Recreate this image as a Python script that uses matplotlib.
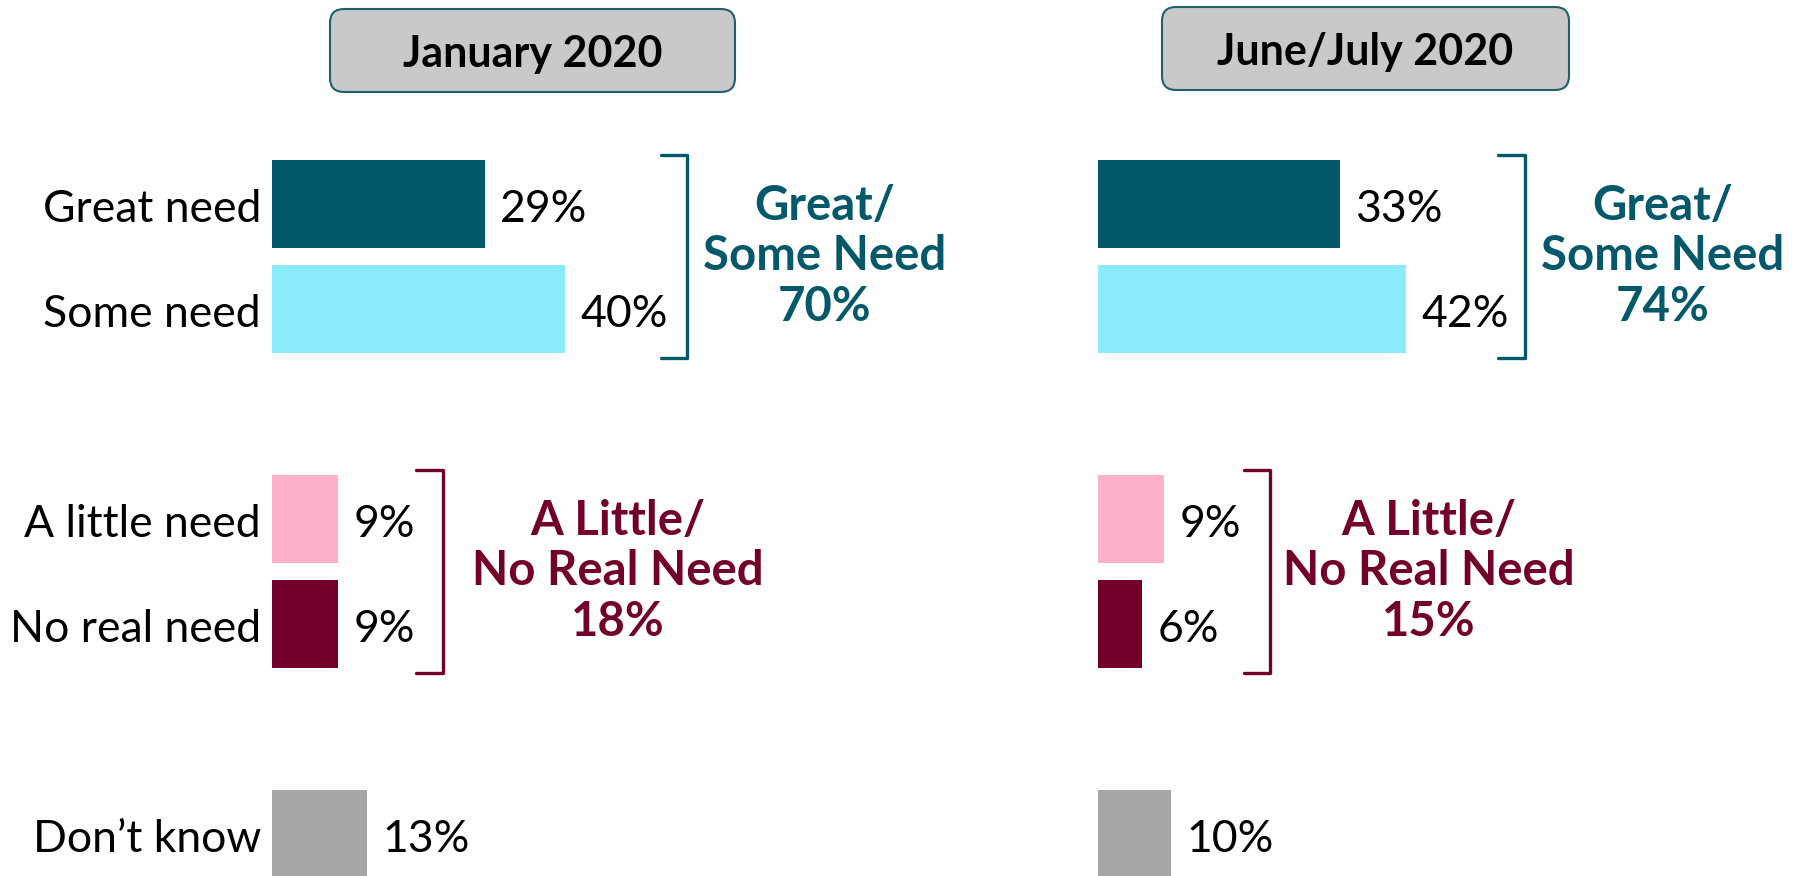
import matplotlib.pyplot as plt
from matplotlib.patches import FancyBboxPatch

plt.rcParams['font.family'] = ['Lato', 'DejaVu Sans']

categories = ["Great need", "Some need", "A little need", "No real need", "Don\u2019t know"]
periods = ["January 2020", "June/July 2020"]
jan_values = [29, 40, 9, 9, 13]
jun_values = [33, 42, 9, 6, 10]
group_names = ["Great/\nSome Need", "A Little/\nNo Real Need"]
jan_totals = [70, 18]
jun_totals = [74, 15]

colors = ["#03596A", "#8BEBFB", "#FFB0CB", "#72002A", "#A6A6A6"]
teal = "#03596A"
maroon = "#72002A"
slots = [0, 1, 3, 4, 6]
bar_h = 0.83

W, H = 1801, 876
fig = plt.figure(figsize=(W / 100, H / 100), dpi=100)


def draw_bracket(ax, x, y0, y1, color):
    hook = 3.6
    ax.plot([x - hook, x, x, x - hook], [y0, y0, y1, y1], color=color, lw=2.4,
            solid_joinstyle="round", solid_capstyle="round", clip_on=False)


def draw_panel(left_px, values, totals, show_labels, bracket_x, label_x):
    ax = fig.add_axes([left_px / W, 0, 440 / W, 776 / H])
    ax.barh(slots, values, height=bar_h, color=colors)
    ax.set_xlim(0, 60)
    ax.set_ylim(6.40, -0.99)
    ax.axis("off")
    for s, v, c in zip(slots, values, categories):
        ax.annotate(f"{v}%", xy=(v, s), xytext=(11, -1), textcoords="offset points",
                    ha="left", va="center_baseline", fontsize=32, color="black")
        if show_labels:
            ax.annotate(c, xy=(0, s), xytext=(-8, -1), textcoords="offset points",
                        ha="right", va="center_baseline", fontsize=32, color="black")
    groups = [(0, 1, teal), (3, 4, maroon)]
    for (a, b, col), name, tot, bx, lx in zip(groups, group_names, totals, bracket_x, label_x):
        draw_bracket(ax, bx, a - 0.47, b + 0.47, col)
        ax.text(lx, (a + b) / 2, f"{name}\n{tot}%", ha="center", va="center",
                fontsize=34, fontweight="bold", color=col, linespacing=1.19)
    return ax


draw_panel(272, jan_values, jan_totals, True, [56.6, 23.3], [75.4, 47.2])
draw_panel(1098, jun_values, jun_totals, False, [58.2, 23.5], [77.0, 45.1])

# period header boxes (inches)
boxes = [(3.30, 7.84, 4.05), (11.62, 7.86, 4.07)]
for (x0, y0, w), title in zip(boxes, periods):
    box = FancyBboxPatch((x0, y0), w, 0.83, boxstyle="round,pad=0,rounding_size=0.14",
                         transform=fig.dpi_scale_trans, facecolor="#C9C9C9",
                         edgecolor="#215F6A", lw=1.5)
    fig.patches.append(box)
    fig.text(x0 + w / 2, y0 + 0.415, title, transform=fig.dpi_scale_trans,
             ha="center", va="center_baseline", fontsize=31, fontweight="bold", color="black")

fig.savefig("out.png", dpi=100)
